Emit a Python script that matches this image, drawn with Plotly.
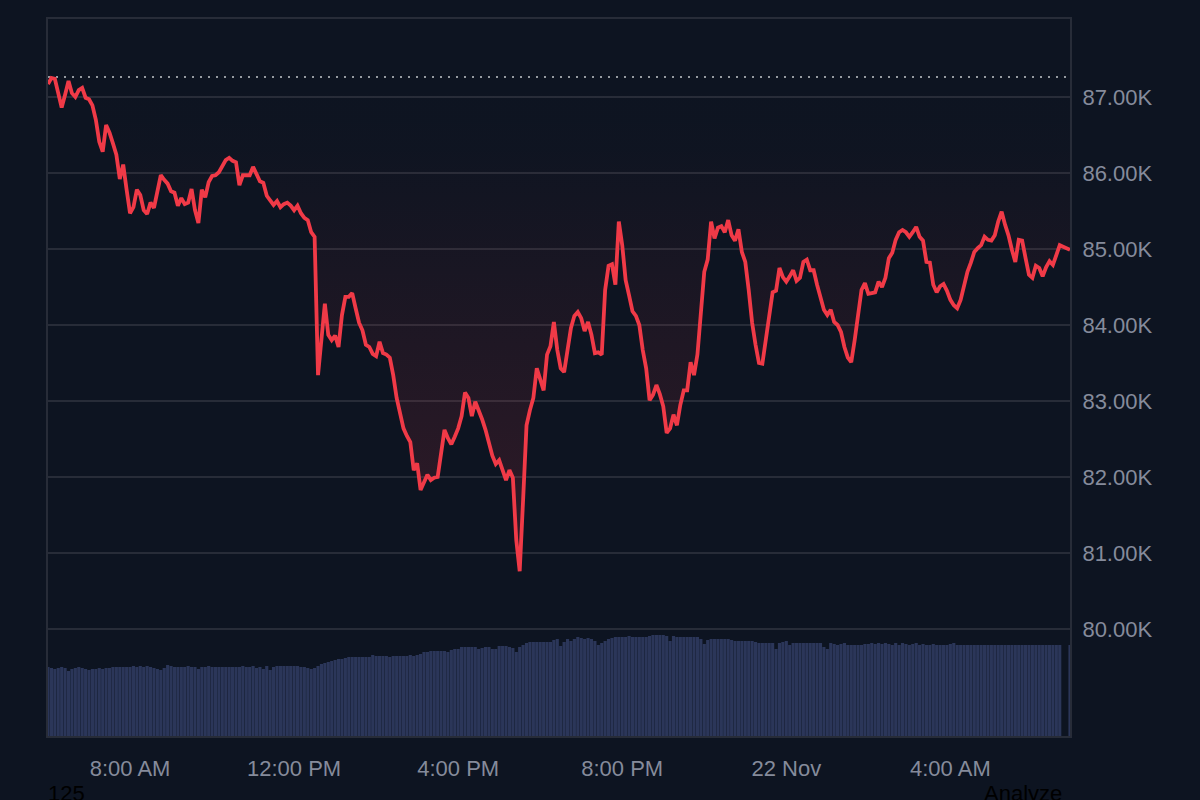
import pandas as pd
import plotly.graph_objects as go

BG = "#0d1421"
GRID = "#272c38"
TEXT = "#858b9b"
RED = "#f03a47"
FONT = "Liberation Sans"

# price in thousands of USD, one sample every 5 min from 06:00
price = [
    87.17, 87.25, 87.24, 87.05, 86.86, 87.03, 87.21, 87.05, 87.00, 87.09, 87.12, 86.99, 86.97, 86.89, 86.70,
    86.41, 86.28, 86.63, 86.53, 86.39, 86.24, 85.92, 86.11, 85.78, 85.47, 85.55, 85.78, 85.71, 85.51, 85.46,
    85.61, 85.54, 85.75, 85.97, 85.91, 85.86, 85.76, 85.74, 85.57, 85.67, 85.59, 85.61, 85.79, 85.51, 85.34,
    85.78, 85.68, 85.88, 85.96, 85.97, 86.01, 86.09, 86.17, 86.20, 86.16, 86.14, 85.84, 85.97, 85.97, 85.97,
    86.08, 85.99, 85.89, 85.87, 85.70, 85.64, 85.58, 85.63, 85.55, 85.59, 85.61, 85.57, 85.51, 85.57, 85.47,
    85.41, 85.38, 85.22, 85.16, 83.34, 83.80, 84.28, 83.87, 83.80, 83.86, 83.71, 84.13, 84.37, 84.37, 84.42,
    84.22, 84.03, 83.93, 83.74, 83.71, 83.62, 83.59, 83.78, 83.63, 83.61, 83.57, 83.34, 83.04, 82.86, 82.64,
    82.54, 82.46, 82.09, 82.18, 81.83, 81.93, 82.03, 81.96, 81.99, 82.00, 82.36, 82.62, 82.51, 82.43, 82.53,
    82.64, 82.80, 83.11, 83.04, 82.80, 82.99, 82.88, 82.76, 82.62, 82.45, 82.28, 82.17, 82.22, 82.09, 81.96,
    82.09, 81.99, 81.17, 80.76, 81.70, 82.68, 82.88, 83.04, 83.43, 83.28, 83.14, 83.61, 83.72, 84.04, 83.67,
    83.43, 83.38, 83.67, 83.96, 84.12, 84.17, 84.09, 83.92, 84.04, 83.87, 83.63, 83.64, 83.61, 84.46, 84.78,
    84.80, 84.53, 85.36, 85.05, 84.59, 84.39, 84.18, 84.12, 84.00, 83.67, 83.43, 83.01, 83.08, 83.21, 83.09,
    82.93, 82.58, 82.64, 82.82, 82.68, 82.95, 83.14, 83.14, 83.51, 83.34, 83.61, 84.13, 84.70, 84.86, 85.36,
    85.14, 85.28, 85.30, 85.22, 85.38, 85.18, 85.11, 85.26, 84.96, 84.83, 84.46, 84.03, 83.74, 83.50, 83.49,
    83.80, 84.17, 84.43, 84.45, 84.75, 84.63, 84.57, 84.64, 84.72, 84.58, 84.62, 84.83, 84.86, 84.72, 84.72,
    84.53, 84.36, 84.20, 84.13, 84.20, 84.04, 84.00, 83.91, 83.71, 83.57, 83.51, 83.80, 84.13, 84.46, 84.55,
    84.41, 84.42, 84.43, 84.57, 84.50, 84.62, 84.88, 84.95, 85.12, 85.22, 85.25, 85.22, 85.16, 85.22, 85.29,
    85.16, 85.11, 84.83, 84.82, 84.53, 84.43, 84.51, 84.54, 84.45, 84.33, 84.26, 84.22, 84.33, 84.53, 84.70,
    84.82, 84.96, 85.01, 85.05, 85.16, 85.12, 85.11, 85.18, 85.36, 85.49, 85.32, 85.18, 84.99, 84.83, 85.12,
    85.11, 84.88, 84.66, 84.62, 84.78, 84.75, 84.64, 84.76, 84.84, 84.79, 84.92, 85.05, 85.03, 85.01, 84.99,
]

# volume bars, same sampling as price
volume = [
    34.5, 34, 33.5, 34, 34.5, 34, 32.5, 33.5, 34, 34.5, 34, 33.5, 33, 33.5, 33.5,
    34, 33.5, 34, 34, 34.5, 34.5, 34.5, 34.5, 34.5, 34.5, 35, 34.5, 35, 34.5, 35,
    34.5, 34, 33.5, 33, 34, 35.5, 35, 34.5, 34.5, 34.5, 34.5, 35, 34.5, 34.5, 33.5,
    34.5, 34.5, 35, 34.5, 34.5, 34.5, 34.5, 34.5, 34.5, 34.5, 34.5, 34.5, 35, 34.5, 34.5,
    35, 34, 34.5, 33.5, 35, 33, 34.5, 35, 35, 35, 35, 35, 35, 35, 34.5,
    34.5, 34, 33.5, 34, 35, 36, 36.5, 37, 37.5, 38, 38.5, 38.5, 39, 39.5, 39.5,
    39.5, 39.5, 39.5, 39.5, 39.5, 40.5, 40, 40, 40, 40, 39.5, 40, 40, 40, 40,
    40, 40.5, 40, 40.5, 41, 42, 42, 42.5, 42.5, 42.5, 42.5, 42.5, 42, 43, 43.5,
    43.5, 44.5, 44.5, 44.5, 44.5, 44.5, 43.5, 44, 44.5, 44.5, 43.5, 43.5, 45, 45, 45,
    44.5, 44, 42, 44.5, 45.5, 46.5, 47, 47, 47, 47, 47, 47, 47, 48, 48.5,
    45, 47, 48.5, 47.5, 48.5, 49.5, 49, 48.5, 49, 48.5, 47.5, 45.5, 46.5, 47.5, 48.5,
    49, 49.5, 49.5, 49.5, 49.5, 50, 49.5, 49.5, 49.5, 49.5, 49.5, 50, 50.5, 50.5, 50.5,
    50.5, 50, 47.5, 50, 49.5, 49.5, 49.5, 49.5, 49.5, 49.5, 49.5, 48.5, 46, 48, 48.5,
    48.5, 48.5, 48.5, 48.5, 48.5, 48, 47.5, 47.5, 47.5, 47.5, 47.5, 47.5, 47, 46.5, 46.5,
    46.5, 46.5, 46.5, 43.5, 46.5, 47, 47.5, 45.5, 46.5, 46.5, 46.5, 46.5, 46.5, 46.5, 46.5,
    46.5, 46.5, 44.5, 43.5, 46.5, 46, 45.5, 46, 46.5, 45.5, 45.5, 45.5, 45.5, 45.5, 46,
    46, 46.5, 46, 46.5, 46, 46.5, 46, 45.5, 46.5, 45.5, 46.5, 46, 45.5, 46, 46.5,
    45.5, 46, 45.5, 45.5, 46, 45.5, 45.5, 45.5, 45.5, 46, 46.5, 45.5, 45.5, 45.5, 45.5,
    45.5, 45.5, 45.5, 45.5, 45.5, 45.5, 45.5, 45.5, 45.5, 45.5, 45.5, 45.5, 45.5, 45.5, 45.5,
    45.5, 45.5, 45.5, 45.5, 45.5, 45.5, 45.5, 45.5, 45.5, 45.5, 45.5, 45.5, 0, 0, 45.5,
]

baseline = 87.263  # the dotted reference level
price_ticks = [80, 81, 82, 83, 84, 85, 86, 87]
price_labels = ["80.00K", "81.00K", "82.00K", "83.00K", "84.00K", "85.00K", "86.00K", "87.00K"]
time_ticks = ["2025-11-21 08:00", "2025-11-21 12:00", "2025-11-21 16:00", "2025-11-21 20:00", "2025-11-22 00:00", "2025-11-22 04:00"]
time_labels = ["8:00 AM", "12:00 PM", "4:00 PM", "8:00 PM", "22 Nov", "4:00 AM"]

times = pd.date_range("2025-11-21 06:00", periods=len(price), freq="5min")

fig = go.Figure()

fig.add_trace(go.Bar(
    x=times, y=volume, yaxis="y2", marker=dict(color="#2b3659", line_width=0),
))
# dotted level, the red area is filled up to it
fig.add_trace(go.Scatter(
    x=[times[0], times[-1]], y=[baseline, baseline], mode="lines",
    line=dict(color="#c4c8cc", width=1.6, dash="2px,6px"),
))
fig.add_trace(go.Scatter(
    x=times, y=price, mode="lines", fill="tonexty",
    line=dict(color=RED, width=3.8),
    fillgradient=dict(
        type="vertical", start=baseline, stop=min(price),
        colorscale=[[0, "rgba(240,58,71,0)"], [0.15, "rgba(240,58,71,0.01)"], [1, "rgba(240,58,71,0.16)"]],
    ),
))

fig.update_layout(
    width=1200, height=800,
    margin=dict(l=48, r=130, t=19, b=64),
    paper_bgcolor=BG, plot_bgcolor=BG,
    showlegend=False, bargap=0.08,
    font=dict(family=FONT, size=22, color=TEXT),
    xaxis=dict(
        range=[times[0], times[-1]], tickmode="array", tickvals=time_ticks, ticktext=time_labels,
        showgrid=False, zeroline=False, showline=True, mirror=True,
        linecolor=GRID, linewidth=2, ticks="", ticklabelstandoff=12,
    ),
    yaxis=dict(
        range=[78.592, 88.026], side="right", tickmode="array", tickvals=price_ticks, ticktext=price_labels,
        showgrid=True, gridcolor=GRID, gridwidth=2, zeroline=False, showline=True, mirror=True,
        linecolor=GRID, linewidth=2, ticks="", ticklabelstandoff=6,
    ),
    yaxis2=dict(range=[0, 358.5], overlaying="y", side="left", visible=False),
    annotations=[
        dict(text="125", xref="paper", yref="paper", x=-0.002, y=-0.0593, xanchor="left", yanchor="top",
             showarrow=False, font=dict(family=FONT, size=22, color="#000000")),
        dict(text="Analyze", xref="paper", yref="paper", x=0.9941, y=-0.0593, xanchor="right", yanchor="top",
             showarrow=False, font=dict(family=FONT, size=22, color="#000000")),
    ],
)

fig.write_html(
    "out.html",
    config={"displayModeBar": False},
    post_script="document.body.style.margin='0';document.body.style.background='%s';" % BG,
)
